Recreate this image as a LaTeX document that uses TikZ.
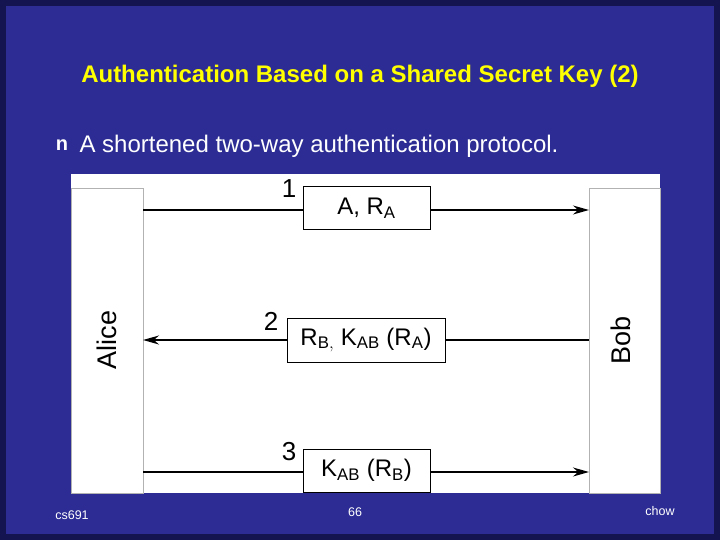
\documentclass[tikz,border=0pt]{standalone}
\usepackage{fontspec}
\setmainfont{Liberation Sans}
\usetikzlibrary{arrows.meta,calc}
\definecolor{slideblue}{RGB}{44,44,148}
\definecolor{slideedge}{RGB}{20,20,80}
\definecolor{titleyellow}{RGB}{255,255,0}
\tikzset{
%Define style for the message boxes and the columns
msgbox/.style={draw, line width=1pt, fill=white, inner sep=0pt, font=\fontsize{24}{24}\selectfont},
column/.style={draw=gray!60, fill=white},
msgright/.style={line width=1.5pt, -{Stealth[length=16pt,width=9pt]}},
msgleft/.style={line width=1.5pt, {Stealth[length=16pt,width=9pt]}-},
}

\begin{document}
\begin{tikzpicture}[x=1pt,y=-1pt]
    % Slide background
    \fill[slideedge] (0,0) rectangle (720,540);
    \fill[slideblue] (6,6) rectangle (714,534);
    \useasboundingbox (0,0) rectangle (720,540);
    \node[text=titleyellow, font=\bfseries\fontsize{24}{24}\selectfont] (title) at (360,76) {Authentication Based on a Shared Secret Key (2)};
    \node[white, font=\bfseries\fontsize{20}{20}\selectfont] (bullet) at (62,145) {n};
    \node[white, anchor=west, font=\fontsize{24}{24}\selectfont] (point) at (76,146) {A shortened two-way authentication protocol.};
    % Diagram
    \fill[white] (71,174) rectangle (660,493);
    \draw[column] (71,188) rectangle (143,493);
    \draw[column] (589,188) rectangle (660,493);
    \node[rotate=90, font=\fontsize{27}{27}\selectfont] (alice) at (107,340) {Alice};
    \node[rotate=90, font=\fontsize{27}{27}\selectfont] (bob) at (621,340) {Bob};
    \coordinate (a1) at (143,210); \coordinate (b1) at (589,210);
    \coordinate (a2) at (143,340); \coordinate (b2) at (589,340);
    \coordinate (a3) at (143,472); \coordinate (b3) at (589,472);
    \draw[msgright] (a1) -- (b1);
    \draw[msgleft] (a2) -- (b2);
    \draw[msgright] (a3) -- (b3);
    \node[msgbox, minimum width=127pt, minimum height=43pt] (m1) at (366.5,208.5) {A, R$_{\mathrm{A}}$};
    \node[msgbox, minimum width=158pt, minimum height=44pt] (m2) at (366,340) {R$_{\mathrm{B,}}$ K$_{\mathrm{AB}}$ (R$_{\mathrm{A}}$)};
    \node[msgbox, minimum width=127pt, minimum height=43pt] (m3) at (366.5,470.5) {K$_{\mathrm{AB}}$ (R$_{\mathrm{B}}$)};
    \node[font=\fontsize{26}{26}\selectfont] (n1) at (289,189) {1};
    \node[font=\fontsize{26}{26}\selectfont] (n2) at (271,321) {2};
    \node[font=\fontsize{26}{26}\selectfont] (n3) at (289,452) {3};
    % Footer
    \node[white, font=\fontsize{12.5}{12.5}\selectfont] (course) at (72,515) {cs691};
    \node[white, font=\fontsize{12.5}{12.5}\selectfont] (page) at (355,512) {66};
    \node[white, font=\fontsize{12.5}{12.5}\selectfont] (author) at (660,511) {chow};
  \end{tikzpicture}
\end{document}
